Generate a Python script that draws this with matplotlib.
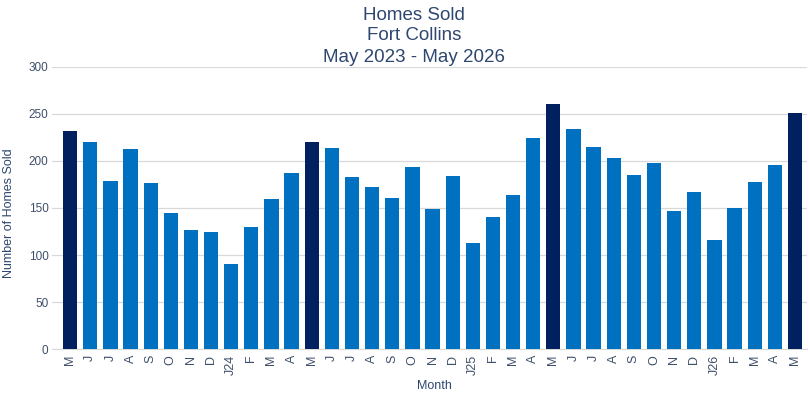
import matplotlib
matplotlib.use("Agg")
import matplotlib.pyplot as plt
import numpy as np

plt.rcParams['font.family'] = ['Liberation Sans', 'DejaVu Sans']

# month labels, May 2023 - May 2026
months = ["M", "J", "J", "A", "S", "O", "N", "D", "J24", "F", "M", "A",
          "M", "J", "J", "A", "S", "O", "N", "D", "J25", "F", "M", "A",
          "M", "J", "J", "A", "S", "O", "N", "D", "J26", "F", "M", "A", "M"]
homes_sold = [232, 220, 179, 213, 176, 145, 127, 124, 91, 130, 159, 187,
              220, 214, 183, 172, 161, 193, 149, 184, 113, 140, 164, 224,
              260, 234, 215, 203, 185, 198, 147, 167, 116, 150, 177, 196, 251]

light_blue = "#0070C0"
dark_blue = "#002060"
text_col = "#2F4770"
tick_col = "#3F4F6A"

colors = [dark_blue if m == "M" and i % 12 == 0 else light_blue
          for i, m in enumerate(months)]

fig = plt.figure(figsize=(8.1, 4.0), dpi=100)
ax = fig.add_axes([52 / 810, (400 - 349.3) / 400, (807 - 52) / 810, (349.3 - 66.5) / 400])

x = np.arange(len(months))
ax.bar(x, homes_sold, width=0.71, color=colors, zorder=3)

ax.set_ylim(0, 300)
ax.set_xlim(-0.9, len(months) - 0.4)
ax.set_yticks(range(0, 301, 50))
ax.yaxis.grid(True, color="#D9D9D9", linewidth=0.9, zorder=0)
ax.set_xticks(x)
ax.set_xticklabels(months, rotation=90)
ax.tick_params(axis="x", length=0, pad=4, labelsize=9, labelcolor=tick_col)
ax.tick_params(axis="y", length=0, pad=2.5, labelsize=8.5, labelcolor=tick_col)

for s in ["top", "right", "left"]:
    ax.spines[s].set_visible(False)
ax.spines["bottom"].set_color("#D9D9D9")

fig.text(434 / 810, 1 - 386 / 400, "Month", ha="center", va="center", fontsize=9, color=text_col)
fig.text(9 / 810, 1 - 213 / 400, "Number of Homes Sold", ha="center", va="center",
         rotation=90, fontsize=9, color=text_col)

fig.text(414 / 810, 1 - 16 / 400, "Homes Sold", ha="center", va="center", fontsize=13.5, color=text_col)
fig.text(414 / 810, 1 - 36 / 400, "Fort Collins", ha="center", va="center", fontsize=13.5, color=text_col)
fig.text(414 / 810, 1 - 57 / 400, "May 2023 - May 2026", ha="center", va="center", fontsize=13.5, color=text_col)

fig.savefig("out.png", dpi=100)
